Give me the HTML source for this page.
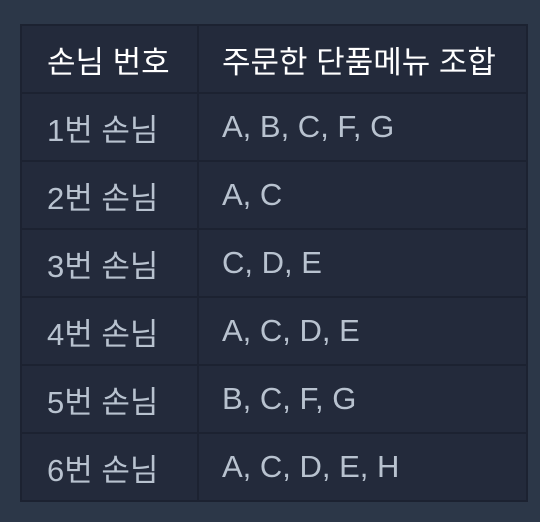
<!DOCTYPE html>
<html><head><meta charset="utf-8"><style>
html,body{margin:0;padding:0;width:540px;height:522px;background:#2c3748;overflow:hidden}
table{position:absolute;left:20px;top:24px;width:508px;height:478px;border-collapse:collapse;background:#232a3b;font-family:"Liberation Sans","Noto Sans CJK KR",sans-serif;font-size:31px}
td,th{border:2px solid #1c2231;padding:0 0 0 23px;text-align:left;height:66px;color:#b8c2cf;font-weight:normal;white-space:nowrap}
td:first-child,th:first-child{width:150px;padding-left:25px}
th{color:#ffffff}
</style></head><body>
<table>
<tr><th>손님 번호</th><th>주문한 단품메뉴 조합</th></tr>
<tr><td>1번 손님</td><td>A, B, C, F, G</td></tr>
<tr><td>2번 손님</td><td>A, C</td></tr>
<tr><td>3번 손님</td><td>C, D, E</td></tr>
<tr><td>4번 손님</td><td>A, C, D, E</td></tr>
<tr><td>5번 손님</td><td>B, C, F, G</td></tr>
<tr><td>6번 손님</td><td>A, C, D, E, H</td></tr>
</table>
</body></html>
